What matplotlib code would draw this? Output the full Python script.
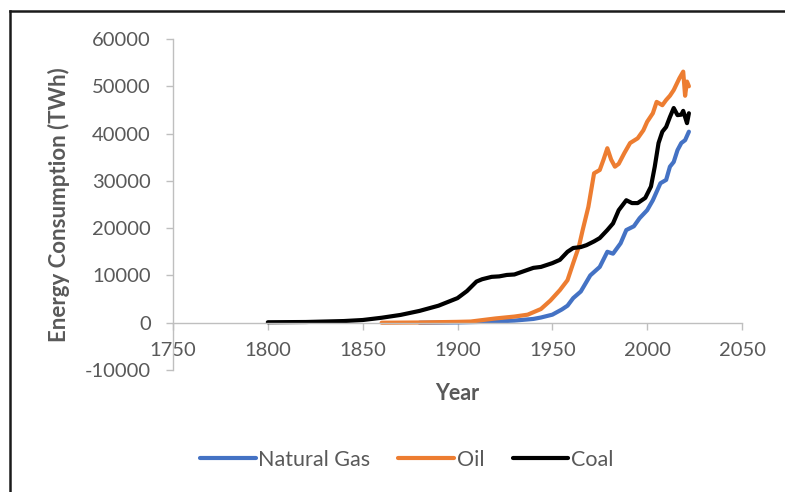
import matplotlib
matplotlib.use("Agg")
import matplotlib.pyplot as plt
from matplotlib.lines import Line2D

# annual world primary energy by source, TWh
gas_years = [1880, 1900, 1910, 1920, 1930, 1940, 1944, 1950, 1955, 1958, 1961, 1965, 1970, 1975,
             1979, 1982, 1986, 1989, 1993, 1996, 2000, 2003, 2007, 2010, 2012, 2014, 2016, 2018,
             2020, 2022]
gas_vals = [0, 60, 150, 250, 450, 800, 1100, 1700, 2800, 3600, 5200, 6600, 10000, 11800,
            15000, 14600, 16800, 19600, 20400, 22100, 23800, 25900, 29500, 30200, 33000, 34000,
            36500, 38000, 38600, 40400]

oil_years = [1860, 1880, 1900, 1907, 1920, 1930, 1937, 1944, 1949, 1954, 1958, 1961, 1964,
             1966, 1969, 1972, 1975, 1977, 1979, 1981, 1983, 1985, 1988, 1991, 1995, 1998,
             2000, 2003, 2005, 2008, 2010, 2012, 2014, 2017, 2019, 2020, 2021, 2022]
oil_vals = [0, 50, 180, 250, 900, 1300, 1700, 2900, 4700, 6900, 9000, 12600, 16100,
            19600, 24500, 31600, 32300, 34500, 36900, 34500, 33000, 33600, 35900, 38000, 39000,
            40700, 42500, 44300, 46700, 46000, 47100, 48000, 49200, 51700, 53100, 48000,
            51000, 50000]

coal_years = [1800, 1820, 1840, 1850, 1860, 1870, 1880, 1890, 1900, 1905, 1910, 1913, 1918,
              1922, 1926, 1930, 1935, 1940, 1944, 1950, 1954, 1958, 1961, 1965, 1968, 1972,
              1975, 1979, 1982, 1985, 1989, 1992, 1995, 1999, 2002, 2004, 2006, 2008, 2010,
              2012, 2014, 2016, 2018, 2019, 2020, 2021, 2022]
coal_vals = [97, 150, 350, 570, 1050, 1650, 2500, 3600, 5200, 6700, 8700, 9200, 9700,
             9800, 10100, 10200, 10900, 11600, 11800, 12600, 13300, 15000, 15800, 16000, 16400,
             17200, 17900, 19600, 21000, 23800, 25900, 25300, 25300, 26400, 28800, 33000, 38000,
             40400, 41400, 43500, 45400, 43900, 44000, 44800, 43500, 42200, 44300]

series = [
    ("Natural Gas", gas_years, gas_vals, "#4472C4"),
    ("Oil", oil_years, oil_vals, "#ED7D31"),
    ("Coal", coal_years, coal_vals, "#000000"),
]

grey = "#595959"
axis_grey = "#BFBFBF"
plt.rcParams["font.family"] = ["Lato", "DejaVu Sans"]
plt.rcParams["axes.unicode_minus"] = False

fig = plt.figure(figsize=(7.85, 4.92), dpi=100)
ax = fig.add_axes([173 / 785, 1 - 370 / 492, 569 / 785, 331 / 492])

for name, xs, ys, col in series:
    ax.plot(xs, ys, color=col, lw=3.0, label=name, solid_capstyle="round",
            solid_joinstyle="round")

ax.set_xlim(1750, 2050)
ax.set_ylim(-10000, 60000)
ax.set_xticks(range(1750, 2051, 50))
ax.set_yticks(range(-10000, 60001, 10000))

for s in ("top", "right"):
    ax.spines[s].set_visible(False)
ax.spines["bottom"].set_position(("data", 0))
for s in ("left", "bottom"):
    ax.spines[s].set_color(axis_grey)
    ax.spines[s].set_linewidth(1.0)

ax.tick_params(axis="both", direction="out", length=5, width=1, color=axis_grey,
               labelcolor=grey, labelsize=14.5)
ax.tick_params(axis="x", pad=9)
ax.tick_params(axis="y", pad=11)

ax.set_xlabel("Year", fontsize=15.5, fontweight="bold", color=grey)
ax.xaxis.set_label_coords(0.5, -0.04)
ax.set_ylabel("Energy Consumption (TWh)", fontsize=16, fontweight="bold", color=grey)
ax.yaxis.set_label_coords(-0.181, 0.5)

leg = fig.legend(loc="center", bbox_to_anchor=(0.518, 1 - 460 / 492), ncol=3, frameon=False,
                 fontsize=15.5, handlelength=2.6, handletextpad=0.12, columnspacing=1.3)
for t in leg.get_texts():
    t.set_color(grey)

# outer frame along the left and top edges
fig.add_artist(Line2D([10 / 785, 10 / 785], [0, 1 - 11 / 492], transform=fig.transFigure,
                      color="#1a1a1a", lw=1.8))
fig.add_artist(Line2D([10 / 785, 1], [1 - 11 / 492, 1 - 11 / 492], transform=fig.transFigure,
                      color="#1a1a1a", lw=1.8))

fig.savefig("out.png", dpi=100)
